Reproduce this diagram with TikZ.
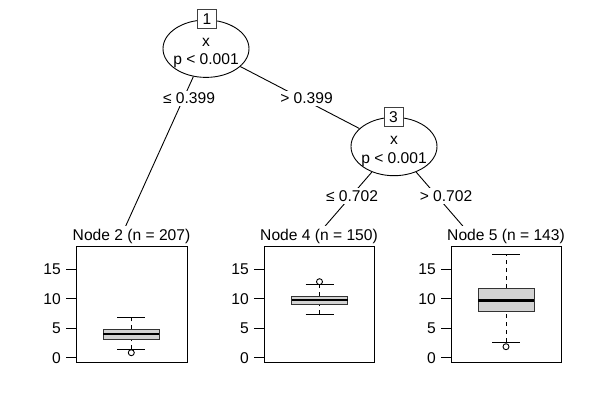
\documentclass[tikz,border=0pt]{standalone}
\usepackage{fontspec}
\setmainfont{Liberation Sans}
\usetikzlibrary{shapes.geometric}
\definecolor{boxgray}{HTML}{D3D3D3}
\definecolor{idgray}{HTML}{404040}
\newcommand\mybox[7]{%
  \draw[whisk] (#1,#2) -- (#1,#3) (#1,#5) -- (#1,#6);
  \draw[capline] (#1-14,#2) -- (#1+14,#2) (#1-14,#6) -- (#1+14,#6);
  \filldraw[boxst] (#1-28,#3) rectangle (#1+28,#5);
  \draw[medline] (#1-28,#4) -- (#1+28,#4);
  \draw[outl] (#1,#7) circle[radius=3pt];
}
\newcommand\myaxis[2]{%
  \draw[frameline] (#1,246.7) rectangle (#2,362);
  \foreach \yy/\lab in {357.7/0,328.3/5,298.7/10,269.3/15}{
    \draw[frameline] (#1-10,\yy) -- (#1,\yy);
    \node[anchor=east,inner sep=0pt] at (#1-15,\yy) {\lab};
  }
}
\begin{document}
\begin{tikzpicture}[x=1pt,y=-1pt,
  every node/.style={font=\fontsize{15.6}{18}\selectfont},
  ell/.style={draw,ellipse,minimum width=86pt,inner sep=0pt,line width=0.9pt},
  idbox/.style={draw=idgray,fill=white,minimum size=19pt,inner sep=0pt,line width=1pt},
  elabel/.style={fill=white,inner sep=2pt},
  header/.style={fill=white,inner sep=3pt},
  edge/.style={line width=0.9pt},
  frameline/.style={line width=0.9pt},
  whisk/.style={line width=0.9pt,dash pattern=on 4pt off 4pt},
  capline/.style={line width=0.9pt},
  boxst/.style={fill=boxgray,draw=black!80,line width=0.9pt},
  medline/.style={line width=2.7pt},
  outl/.style={line width=0.9pt}]
\useasboundingbox[fill=white] (0,0) rectangle (600,412);
% inner nodes
\node[ell,minimum height=57.4pt] (n1) at (206,48.7) {};
\node[ell,minimum height=58.4pt] (n3) at (394,146.5) {};
\coordinate (e2) at (123,232);
\coordinate (e4) at (320,232);
\coordinate (e5) at (468,232);
% edges
\draw[edge] (n1) -- (n3);
\draw[edge] (n1) -- (e2);
\draw[edge] (n3) -- (e4);
\draw[edge] (n3) -- (e5);
% id boxes and node texts
\node[idbox] (id1) at (207,18.7) {1};
\node[idbox] (id3) at (393.5,117) {3};
\node[anchor=base,inner sep=0pt] (v1) at (206,46.7) {x};
\node[anchor=base,inner sep=0pt] (p1) at (206,65) {p < 0.001};
\node[anchor=base,inner sep=0pt] (v3) at (394,144) {x};
\node[anchor=base,inner sep=0pt] (p3) at (394,163.3) {p < 0.001};
% edge labels
\node[elabel] (l12) at (189,98.5) {≤ 0.399};
\node[elabel] (l13) at (306.5,98.5) {> 0.399};
\node[elabel] (l34) at (352,196) {≤ 0.702};
\node[elabel] (l35) at (446,196) {> 0.702};
% headers
\node[header,anchor=base] (h2) at (131.5,240.7) {Node 2 (n = 207)};
\node[header,anchor=base] (h4) at (319,240.7) {Node 4 (n = 150)};
\node[header,anchor=base] (h5) at (506,240.7) {Node 5 (n = 143)};
% panels
\myaxis{76}{187}
\myaxis{264}{374}
\myaxis{451}{561}
% boxplots
\mybox{131.3}{349.3}{339}{334}{329.3}{317.7}{352.7}
\mybox{319.5}{314.3}{304}{300}{296}{284.3}{281.7}
\mybox{506}{342}{311}{300.7}{288}{254}{346.7}
\end{tikzpicture}
\end{document}
